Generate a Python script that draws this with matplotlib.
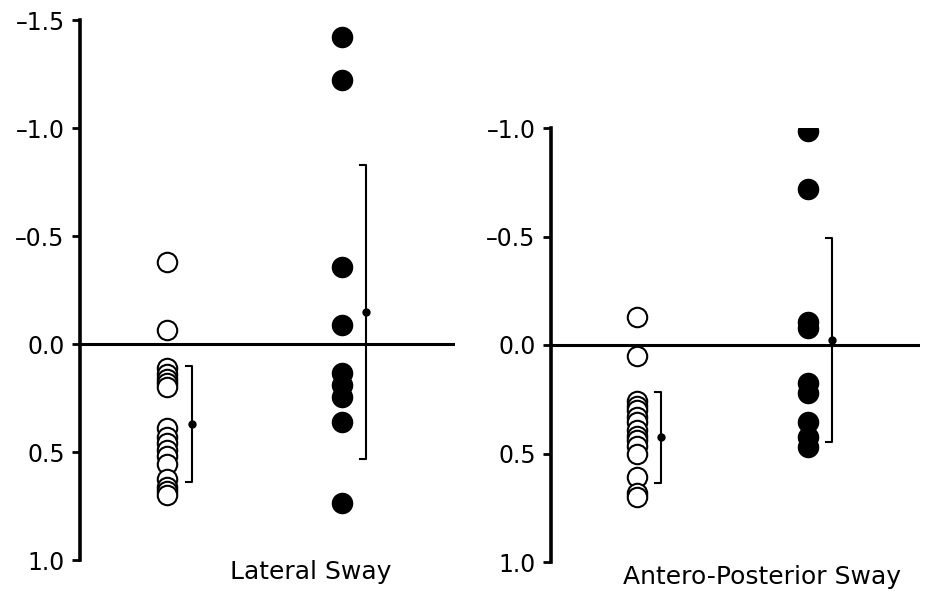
import matplotlib

matplotlib.use("Agg")
import matplotlib.pyplot as plt

plt.rcParams["font.family"] = "DejaVu Sans"

# Group positions on the x axis: 0 = open circles, 1 = filled circles
# Lateral sway
lat_open = [-0.38, -0.065, 0.11, 0.14, 0.16, 0.18, 0.20,
            0.39, 0.43, 0.46, 0.49, 0.52, 0.555, 0.625, 0.66, 0.68, 0.70]
lat_filled = [-1.42, -1.22, -0.355, -0.09, 0.135, 0.19, 0.245, 0.36, 0.735]
lat_mean = [0.37, -0.148]
lat_sd = [0.27, 0.68]

# Antero-posterior sway
ap_open = [-0.13, 0.05, 0.26, 0.28, 0.30, 0.33, 0.355, 0.39, 0.42, 0.44,
           0.465, 0.50, 0.61, 0.68, 0.70]
ap_filled = [-0.985, -0.72, -0.105, -0.078, 0.175, 0.22, 0.355, 0.425, 0.47]
ap_mean = [0.425, -0.025]
ap_sd = [0.21, 0.47]

lat_ticks = [-1.5, -1.0, -0.5, 0.0, 0.5, 1.0]
ap_ticks = [-1.0, -0.5, 0.0, 0.5, 1.0]

W, H = 942, 594
fig = plt.figure(figsize=(W / 100, H / 100), dpi=100)


def px_axes(x0, x1, ytop, ybot):
    return fig.add_axes([x0 / W, 1 - ybot / H, (x1 - x0) / W, (ybot - ytop) / H])


def draw_panel(ax, opens, filled, means, sds, ticks):
    ax.set_xlim(-0.5, 1.65)
    ax.set_ylim(ticks[-1], ticks[0])
    for s in ("top", "right", "bottom"):
        ax.spines[s].set_visible(False)
    ax.spines["left"].set_linewidth(2.6)
    ax.set_xticks([])
    ax.set_yticks(ticks)
    # en dash for the short minus used in the original figure
    ax.set_yticklabels([f"{t:.1f}".replace("-", "\u2013") for t in ticks])
    ax.tick_params(axis="y", direction="out", length=6, width=2.0, pad=5,
                   labelsize=17)
    ax.axhline(0, color="black", lw=2.2, zorder=1)

    ax.plot([0] * len(opens), opens, "o", ms=14, mfc="white", mec="black",
            mew=1.5, zorder=3)
    ax.plot([1] * len(filled), filled, "o", ms=14.5, mfc="black", mec="black",
            zorder=3)

    off, cap = 0.14, 0.035
    for g, (m, sd) in enumerate(zip(means, sds)):
        bx = g + off
        lo, hi = m - sd, m + sd
        ax.plot([bx - cap, bx, bx, bx - cap], [lo, lo, hi, hi], color="black",
                lw=1.5, zorder=2)
        ax.plot(bx, m, "o", ms=5, color="black", zorder=4)


ax1 = px_axes(80, 455, 20, 560)
draw_panel(ax1, lat_open, lat_filled, lat_mean, lat_sd, lat_ticks)

ax2 = px_axes(551, 920, 128, 562)
draw_panel(ax2, ap_open, ap_filled, ap_mean, ap_sd, ap_ticks)

fig.text(230 / W, 1 - 572 / H, "Lateral Sway", fontsize=18, ha="left",
         va="center")
fig.text(623 / W, 1 - 577 / H, "Antero-Posterior Sway", fontsize=18,
         ha="left", va="center")

fig.savefig("out.png", dpi=100)
